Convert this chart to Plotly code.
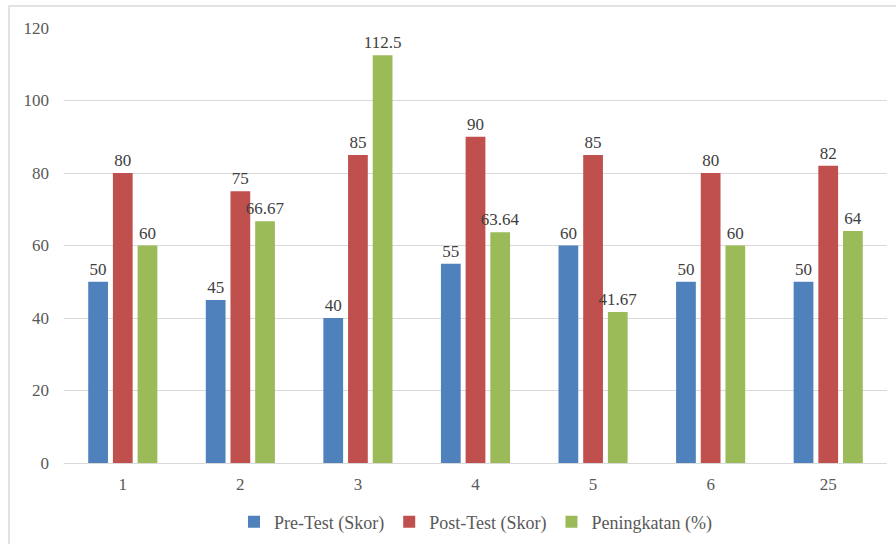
import plotly.graph_objects as go

categories = ["1", "2", "3", "4", "5", "6", "25"]
pre_test = [50, 45, 40, 55, 60, 50, 50]
post_test = [80, 75, 85, 90, 85, 80, 82]
peningkatan = [60, 66.67, 112.5, 63.64, 41.67, 60, 64]

series = [
    ("Pre-Test (Skor)", pre_test, "#4F81BD"),
    ("Post-Test (Skor)", post_test, "#C0504D"),
    ("Peningkatan (%)", peningkatan, "#9BBB59"),
]

font_family = "Times New Roman, Liberation Serif, serif"

fig = go.Figure()
for name, values, color in series:
    fig.add_trace(go.Bar(
        x=categories,
        y=values,
        name=name,
        marker=dict(color=color, line=dict(width=0)),
        text=[f"{v:g}" for v in values],
        textposition="outside",
        constraintext="none",
        cliponaxis=False,
        textfont=dict(family=font_family, size=17, color="#404040"),
    ))

fig.update_layout(
    width=896,
    height=544,
    margin=dict(l=64, r=9, t=28, b=81, autoexpand=False),
    paper_bgcolor="white",
    plot_bgcolor="white",
    barmode="group",
    bargap=0.37,
    bargroupgap=0.2,
    font=dict(family=font_family, size=17, color="#595959"),
    legend=dict(
        orientation="h",
        x=0.5, xanchor="center",
        y=-0.136, yanchor="middle",
        font=dict(family=font_family, size=18, color="#595959"),
        itemwidth=30,
        traceorder="normal",
    ),
    xaxis=dict(
        type="category",
        showgrid=False,
        showline=True,
        linecolor="#D9D9D9",
        linewidth=1,
        ticks="",
        ticklabelstandoff=6,
        tickfont=dict(family=font_family, size=17, color="#595959"),
    ),
    yaxis=dict(
        range=[0, 120],
        dtick=20,
        showgrid=True,
        gridcolor="#D9D9D9",
        gridwidth=1,
        zeroline=False,
        showline=False,
        ticks="",
        ticklabelstandoff=14,
        tickfont=dict(family=font_family, size=17, color="#595959"),
    ),
    shapes=[dict(
        type="rect", xref="paper", yref="paper",
        x0=-0.0668, x1=1.02, y0=-0.2, y1=1.0506,
        line=dict(color="#D9D9D9", width=1.5),
        fillcolor="rgba(0,0,0,0)",
        layer="below",
    )],
)

fig.write_html("out.html")
